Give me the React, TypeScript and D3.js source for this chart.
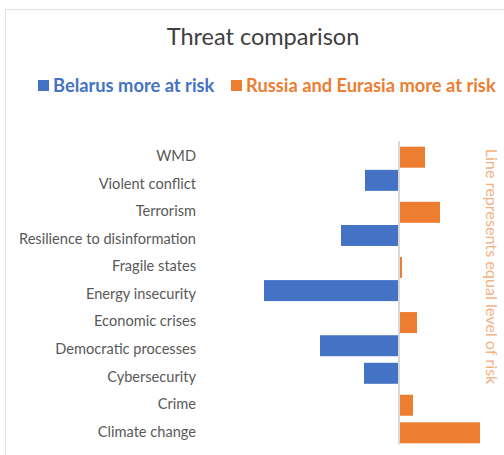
import React from "react";
import * as d3 from "d3";

const categories = [
  "WMD",
  "Violent conflict",
  "Terrorism",
  "Resilience to disinformation",
  "Fragile states",
  "Energy insecurity",
  "Economic crises",
  "Democratic processes",
  "Cybersecurity",
  "Crime",
  "Climate change",
];
const belarusMore = [0, -0.34, 0, -0.58, 0, -1.35, 0, -0.79, -0.35, 0, 0];
const russiaMore = [0.26, 0, 0.41, 0, 0.03, 0, 0.18, 0, 0, 0.14, 0.81];
const seriesNames = ["Belarus more at risk", "Russia and Eurasia more at risk"];
const seriesColors = ["#4472c4", "#ed7d31"];
const title = "Threat comparison";
const note = "Line represents equal level of risk";

const W = 504;
const H = 455;
const FONT = "Lato, 'Open Sans', sans-serif";

export default function App() {
  const x = d3.scaleLinear().domain([-1.6, 1.0]).range([239, 499]);
  const y = d3.scaleBand<string>().domain(categories).range([141.2, 444.4]).paddingInner(0).paddingOuter(0);
  const sub = d3.scalePoint<string>().domain(seriesNames).range([-2.2, 2.2]);
  const barH = 21;
  const series = [belarusMore, russiaMore];

  return (
    <svg
      width={W}
      height={H}
      style={{ position: "absolute", left: 0, top: 0, background: "#fff" }}
      fontFamily={FONT}
    >
      <rect x={0} y={0} width={W} height={H} fill="#fff" />
      {/* frame */}
      <line x1={5.5} y1={9} x2={5.5} y2={H} stroke="#e3e3e3" strokeWidth={1} />
      <line x1={5} y1={9.5} x2={W} y2={9.5} stroke="#e3e3e3" strokeWidth={1} />

      <text x={263} y={45} textAnchor="middle" fontSize={23.5} fill="#404040">
        {title}
      </text>

      {/* legend */}
      <rect x={38} y={80} width={11} height={11} fill={seriesColors[0]} />
      <text x={53} y={92} fontSize={18.3} fontWeight="bold" fill={seriesColors[0]}>
        {seriesNames[0]}
      </text>
      <rect x={231} y={80} width={11} height={11} fill={seriesColors[1]} />
      <text x={246} y={92} fontSize={18.3} fontWeight="bold" fill={seriesColors[1]}>
        {seriesNames[1]}
      </text>

      {/* bars */}
      {series.map((vals, si) =>
        vals.map((v, i) => {
          if (v === 0) return null;
          const c = categories[i];
          const cy = (y(c) as number) + y.bandwidth() / 2 + (sub(seriesNames[si]) as number);
          const x0 = Math.min(x(0), x(v));
          const w = Math.abs(x(v) - x(0));
          return (
            <rect
              key={`${si}-${i}`}
              x={x0}
              y={cy - barH / 2}
              width={w}
              height={barH}
              fill={seriesColors[si]}
            />
          );
        })
      )}

      {/* zero line */}
      <line
        x1={x(0)}
        x2={x(0)}
        y1={y.range()[0]}
        y2={y.range()[1]}
        stroke="#d9d9d9"
        strokeWidth={2}
      />

      {/* category labels */}
      {categories.map((c) => (
        <text
          key={c}
          x={196}
          y={(y(c) as number) + y.bandwidth() / 2}
          dy="0.42em"
          textAnchor="end"
          fontSize={14.6}
          fill="#595959"
        >
          {c}
        </text>
      ))}

      {/* vertical note */}
      <text
        transform={`translate(486, 266.5) rotate(90)`}
        textAnchor="middle"
        fontSize={16.2}
        fill="#f4b183"
      >
        {note}
      </text>
    </svg>
  );
}
